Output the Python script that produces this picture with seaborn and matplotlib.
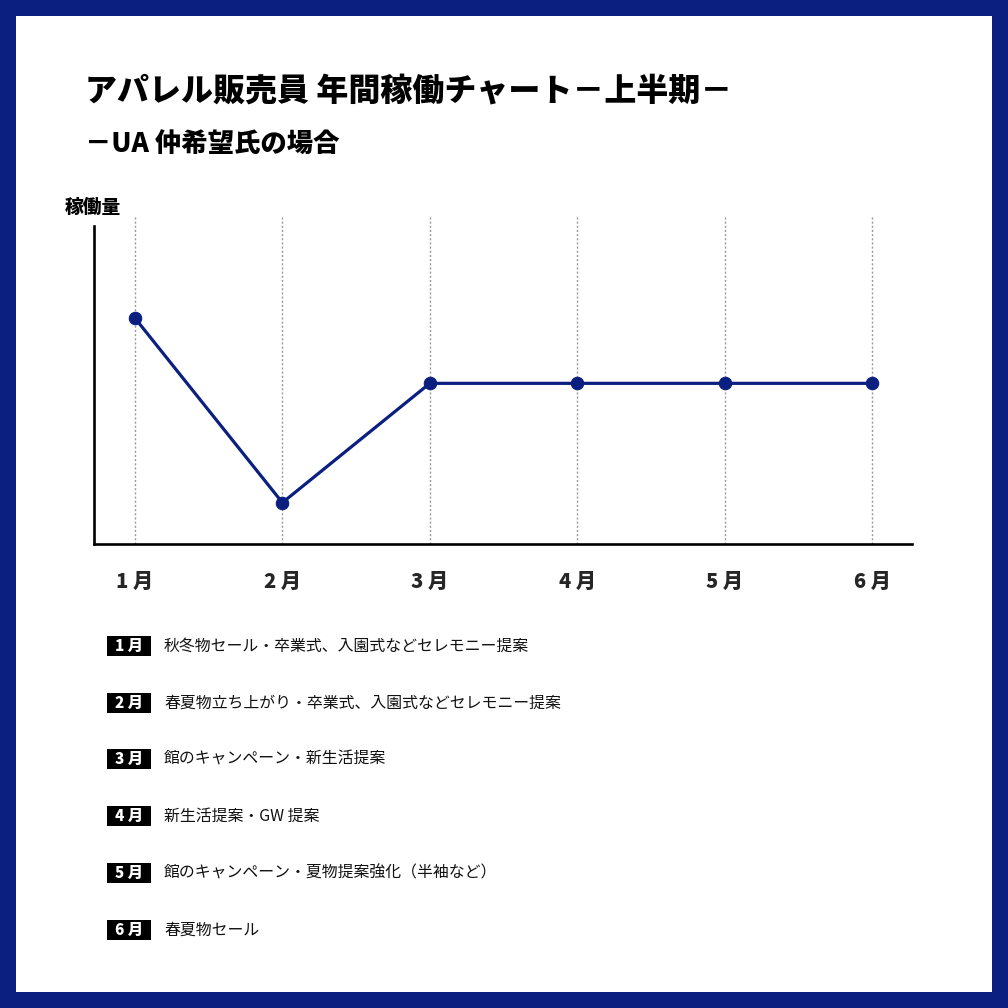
import matplotlib
matplotlib.use("Agg")
import matplotlib.pyplot as plt
from matplotlib.patches import Rectangle
import seaborn as sns
import pandas as pd

# chart data
months = ["1 月", "2 月", "3 月", "4 月", "5 月", "6 月"]
workload = [7.1, 1.3, 5.05, 5.05, 5.05, 5.05]
notes = [
    "秋冬物セール・卒業式、入園式などセレモニー提案",
    "春夏物立ち上がり・卒業式、入園式などセレモニー提案",
    "館のキャンペーン・新生活提案",
    "新生活提案・GW 提案",
    "館のキャンペーン・夏物提案強化（半袖など）",
    "春夏物セール",
]
title = "アパレル販売員 年間稼働チャート－上半期－"
subtitle = "－UA 仲希望氏の場合"
ylabel = "稼働量"

NAVY = "#0a1f80"
W = 1008

sns.set_style("white")
plt.rcParams["font.family"] = ["Noto Sans CJK JP", "DejaVu Sans"]

fig = plt.figure(figsize=(10.08, 10.08), dpi=100)
fig.patch.set_facecolor(NAVY)
fig.patches.append(Rectangle((16 / W, 16 / W), 976 / W, 976 / W,
                             transform=fig.transFigure, facecolor="white",
                             edgecolor="none", zorder=-10))

def px(x, y):
    # pixel coords (top-left origin) -> figure fraction
    return x / W, 1 - y / W

ax = fig.add_axes([94 / W, 1 - 544 / W, (912 - 94) / W, (544 - 216) / W])
ax.set_facecolor("white")

df = pd.DataFrame({"month": months, "workload": workload})
df["pos"] = range(len(months))
sns.lineplot(data=df, x="pos", y="workload", ax=ax, color=NAVY, lw=2.3,
             marker="o", markersize=9, markeredgecolor=NAVY, zorder=3)

ax.set_xlim(-0.278, 5.271)
ax.set_ylim(0, 10.31)
ax.set_xticks(df["pos"])
ax.set_xticklabels(months, fontsize=14.5, fontweight="black")
ax.set_yticks([])
ax.set_xlabel("")
ax.set_ylabel("")
ax.tick_params(axis="x", length=0, pad=20)

ax.grid(axis="x", linestyle=(0, (1.5, 1.5)), color="#999999", lw=1)
ax.set_axisbelow(True)
for s in ["top", "right"]:
    ax.spines[s].set_visible(False)
for s in ["left", "bottom"]:
    ax.spines[s].set_color("black")
    ax.spines[s].set_linewidth(1.9)
ax.spines["left"].set_bounds(0, 10)

# titles
fig.text(*px(85, 92), title, fontsize=23, fontweight="black",
         ha="left", va="center", color="black")
fig.text(*px(85, 145), subtitle, fontsize=19, fontweight="black",
         ha="left", va="center", color="black")
fig.text(*px(65, 207), ylabel, fontsize=13.5, fontweight="black",
         ha="left", va="center", color="black")

# month notes
row_y = [646, 703, 759, 816, 873, 930]
for m, note, y in zip(months, notes, row_y):
    fig.patches.append(Rectangle(px(107, y + 10), 44 / W, 20 / W,
                                 transform=fig.transFigure,
                                 facecolor="black", edgecolor="none"))
    fig.text(*px(129, y), m, fontsize=11, fontweight="black", color="white",
             ha="center", va="center")
    fig.text(*px(164, y), note, fontsize=11.45, color="#111111",
             ha="left", va="center")

fig.savefig("out.png", dpi=100, facecolor=fig.get_facecolor())
